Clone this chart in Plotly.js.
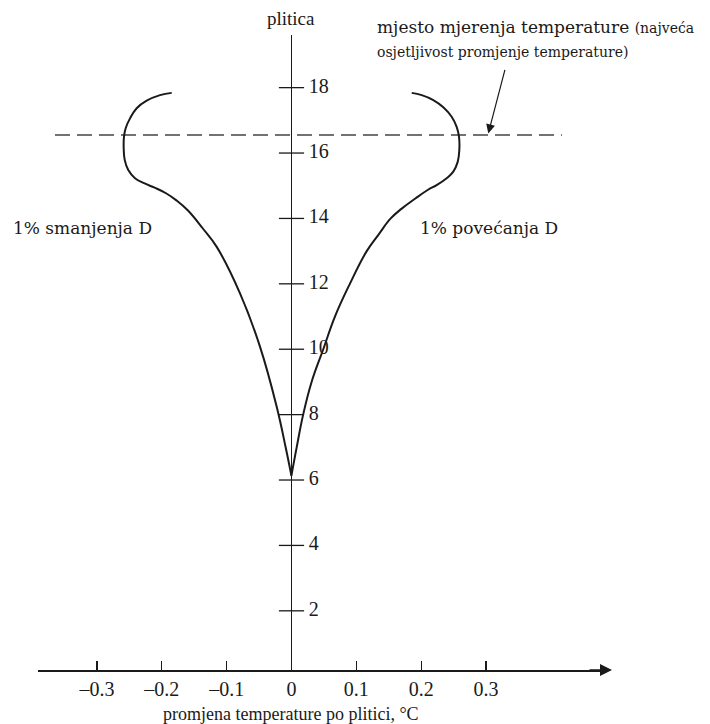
<!DOCTYPE html>
<html>
<head>
<meta charset="utf-8">
<script src="https://cdn.plot.ly/plotly-3.0.1.min.js"></script>
<style>html,body{margin:0;padding:0;background:#fff;}#chart{width:710px;height:724px;}</style>
</head>
<body>
<div id="chart"></div>
<script>
// ---- data ----
const rightX = [0, 0.008, 0.018, 0.031, 0.049, 0.067, 0.090, 0.116, 0.134, 0.153, 0.170, 0.191, 0.210, 0.2239, 0.2393, 0.2495, 0.2563, 0.2588, 0.2583, 0.2547, 0.247, 0.2341, 0.2187, 0.2008, 0.1854];
const rightY = [6.15, 7.0, 8.0, 9.0, 10.0, 11.0, 12.0, 13.0, 13.5, 14.0, 14.3, 14.61, 14.87, 15.02, 15.23, 15.43, 15.73, 16.09, 16.5, 16.8, 17.11, 17.4, 17.62, 17.77, 17.84];
const leftX = [0, -0.009, -0.0228, -0.0486, -0.0794, -0.1153, -0.137, -0.160, -0.178, -0.1935, -0.211, -0.2265, -0.2413, -0.2517, -0.2572, -0.2588, -0.2583, -0.2557, -0.249, -0.2387, -0.2233, -0.2028, -0.1847];
const leftY = [6.12, 7.0, 8.24, 10.08, 11.71, 13.13, 13.7, 14.25, 14.56, 14.77, 14.94, 15.07, 15.23, 15.48, 15.79, 16.19, 16.5, 16.76, 17.06, 17.37, 17.6, 17.77, 17.84];
const refLineX = [-0.3647, 0.417];
const refLineY = [16.55, 16.55];
const xTickVals = [-0.3, -0.2, -0.1, 0, 0.1, 0.2, 0.3];
const xTickText = ['\u20130.3', '\u20130.2', '\u20130.1', '0', '0.1', '0.2', '0.3'];
const yTickVals = [2, 4, 6, 8, 10, 12, 14, 16, 18];
const yTickText = ['2', '4', '6', '8', '10', '12', '14', '16', '18'];
const pointerX = 0.3035, pointerY = 16.6;

const ink = '#1a1a1a';
const serif = 'Liberation Serif, Times New Roman, serif';
const wide = 'DejaVu Serif, serif';

const traces = [
  {x: refLineX, y: refLineY, mode: 'lines', line: {color: '#444', width: 1.5, dash: '15px,7px'}, hoverinfo: 'skip'},
  {x: rightX, y: rightY, mode: 'lines', line: {color: ink, width: 2, shape: 'spline', smoothing: 1.2}, hoverinfo: 'skip'},
  {x: leftX, y: leftY, mode: 'lines', line: {color: ink, width: 2, shape: 'spline', smoothing: 1.2}, hoverinfo: 'skip'},
  {x: yTickVals.map(() => 0), y: yTickVals, mode: 'markers+text',
   marker: {symbol: 'line-ew', size: 18, color: ink, line: {color: ink, width: 1.3}},
   text: yTickText.map(t => '\u00a0' + t), textposition: 'middle right',
   textfont: {family: serif, size: 20, color: ink}, cliponaxis: false, hoverinfo: 'skip'}
];

const layout = {
  width: 710, height: 724, autosize: false,
  margin: {l: 38, r: 104, t: 35, b: 54},
  paper_bgcolor: '#fff', plot_bgcolor: '#fff',
  showlegend: false,
  font: {family: serif, color: ink},
  xaxis: {
    range: [-0.3909, 0.485], showgrid: false,
    zeroline: true, zerolinecolor: ink, zerolinewidth: 1.5,
    showline: true, linecolor: ink, linewidth: 1.5,
    ticks: 'inside', ticklen: 9, tickwidth: 1.2, tickcolor: ink,
    tickvals: xTickVals, ticktext: xTickText,
    tickfont: {family: serif, size: 20, color: ink}
  },
  yaxis: {
    range: [0.19, 19.61], showgrid: false, zeroline: false,
    showline: false, showticklabels: false, ticks: ''
  },
  annotations: [
    {xref: 'x', yref: 'paper', x: 0, y: 1.0252, text: 'plitica', showarrow: false,
     xanchor: 'center', yanchor: 'middle', font: {family: serif, size: 19, color: ink}},
    {xref: 'x', yref: 'paper', x: 0, y: -0.0693, text: 'promjena temperature po plitici, °C', showarrow: false,
     xanchor: 'center', yanchor: 'middle', font: {family: serif, size: 18, color: ink}},
    {xref: 'paper', yref: 'y', x: -0.0475, y: 13.71, text: '1% smanjenja D', showarrow: false,
     xanchor: 'left', yanchor: 'middle', font: {family: wide, size: 17, color: ink}},
    {xref: 'x', yref: 'y', x: 0.195, y: 13.71, text: '1% povećanja D', showarrow: false,
     xanchor: 'left', yanchor: 'middle', font: {family: wide, size: 17, color: ink}},
    {xref: 'x', yref: 'paper', x: 0.1288, y: 1.0126,
     text: 'mjesto mjerenja temperature <span style="font-size:14px">(najveća</span>', showarrow: false,
     xanchor: 'left', yanchor: 'middle', font: {family: wide, size: 17, color: ink}},
    {xref: 'x', yref: 'paper', x: 0.1288, y: 0.9732,
     text: 'osjetljivost promjenje temperature)', showarrow: false,
     xanchor: 'left', yanchor: 'middle', font: {family: wide, size: 14, color: ink}},
    {xref: 'x', yref: 'y', x: pointerX, y: pointerY, text: '', showarrow: true,
     ax: 17, ay: -65, arrowhead: 2, arrowsize: 1.5, arrowwidth: 1.2, arrowcolor: ink, standoff: 0},
    {xref: 'paper', yref: 'paper', x: 1.0106, y: 0, text: '', showarrow: true,
     ax: -24, ay: 0, arrowhead: 2, arrowsize: 1.6, arrowwidth: 1.5, arrowcolor: ink, standoff: 0}
  ]
};

Plotly.newPlot('chart', traces, layout, {staticPlot: true, displayModeBar: false});
</script>
</body>
</html>
